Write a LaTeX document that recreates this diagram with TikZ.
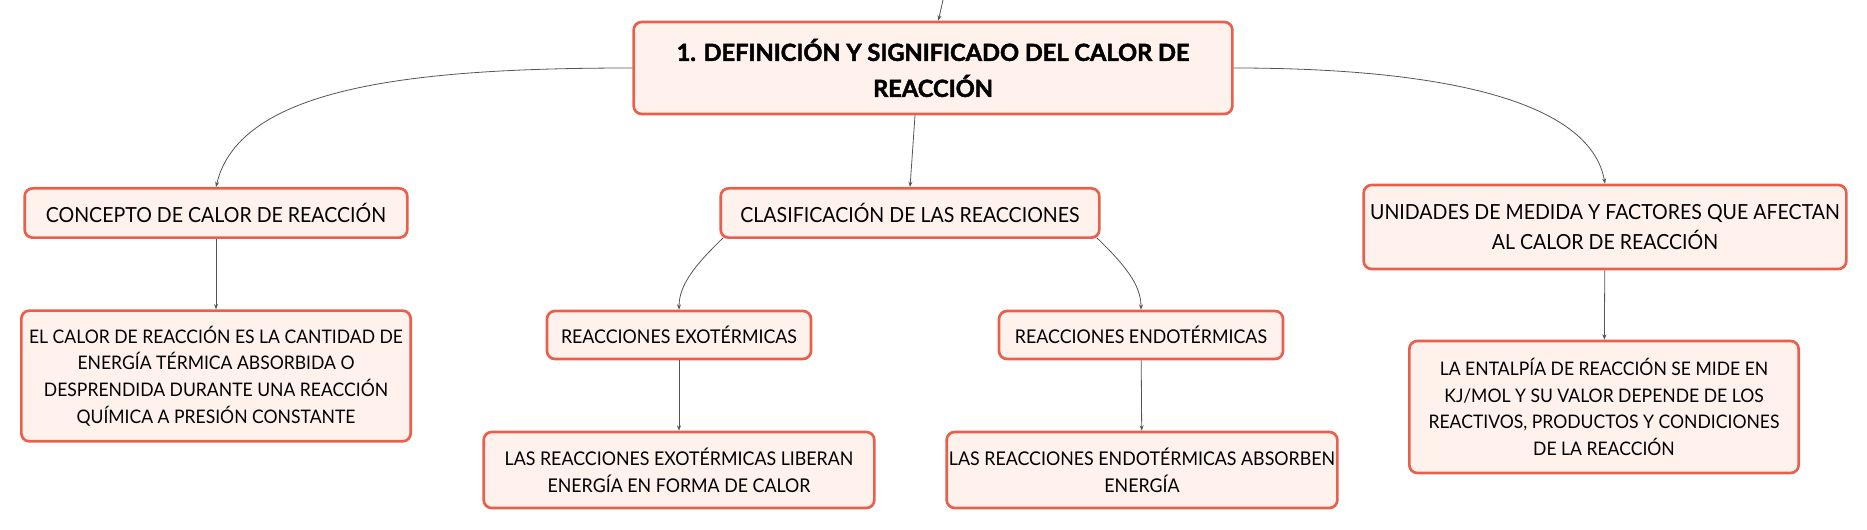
\documentclass[tikz,border=0pt]{standalone}
\usepackage{fontspec}
\setmainfont{Lato}[FakeStretch=0.94]
\newfontfamily\heavyfont{Lato}[BoldFeatures={FakeBold=2}]
\usetikzlibrary{arrows.meta}
\definecolor{boxline}{HTML}{E8604C}
\definecolor{boxfill}{HTML}{FFF2ED}
\definecolor{linkgray}{HTML}{555555}

\begin{document}
\begin{tikzpicture}[x=0.75pt, y=-0.75pt,
    box/.style={draw=boxline, line width=2pt, fill=boxfill, rounded corners=6pt, align=center, inner sep=0pt},
    link/.style={draw=linkgray, line width=0.6pt, -{Stealth[length=4pt,width=3pt]}},
    rootfont/.style={font=\heavyfont\fontsize{17.7}{27}\selectfont\bfseries},
    headfont/.style={font=\fontsize{15.6}{22.5}\selectfont},
    leaffont/.style={font=\fontsize{14}{20}\selectfont},
    midfont/.style={font=\fontsize{14.2}{20}\selectfont}]
    \useasboundingbox (0,0) rectangle (1867,530);

    % Central topic
    \coordinate (up) at (943,0);
    \node[box, rootfont, minimum width=449pt, minimum height=69pt] (root) at (933,68)
        {1. DEFINICIÓN Y SIGNIFICADO DEL CALOR DE\\REACCIÓN};
    \draw[link] (up) -- ([xshift=4pt]root.north);

    % Concepto
    \node[box, headfont, minimum width=287pt, minimum height=37pt] (concepto) at (216,213)
        {CONCEPTO DE CALOR DE REACCIÓN};
    \node[box, leaffont, minimum width=292pt, minimum height=98pt] (calor) at (216,376)
        {EL CALOR DE REACCIÓN ES LA CANTIDAD DE\\ENERGÍA TÉRMICA ABSORBIDA O\\DESPRENDIDA DURANTE UNA REACCIÓN\\QUÍMICA A PRESIÓN CONSTANTE};

    % Clasificacion
    \node[box, headfont, minimum width=284pt, minimum height=37pt] (clasif) at (910,213)
        {CLASIFICACIÓN DE LAS REACCIONES};
    \node[box, midfont, minimum width=198pt, minimum height=36pt] (exo) at (679,335)
        {REACCIONES EXOTÉRMICAS};
    \node[box, midfont, minimum width=213pt, minimum height=36pt] (endo) at (1141,335)
        {REACCIONES ENDOTÉRMICAS};
    \node[box, midfont, minimum width=293pt, minimum height=57pt] (exotxt) at (679,470)
        {LAS REACCIONES EXOTÉRMICAS LIBERAN\\ENERGÍA EN FORMA DE CALOR};
    \node[box, midfont, minimum width=293pt, minimum height=57pt] (endotxt) at (1142,470)
        {LAS REACCIONES ENDOTÉRMICAS ABSORBEN\\ENERGÍA};

    % Unidades
    \node[box, headfont, minimum width=362pt, minimum height=63pt] (unidades) at (1605,227)
        {UNIDADES DE MEDIDA Y FACTORES QUE AFECTAN\\AL CALOR DE REACCIÓN};
    \node[box, leaffont, minimum width=292pt, minimum height=99pt] (entalpia) at (1604,407)
        {LA ENTALPÍA DE REACCIÓN SE MIDE EN\\KJ/MOL Y SU VALOR DEPENDE DE LOS\\REACTIVOS, PRODUCTOS Y CONDICIONES\\DE LA REACCIÓN};

    % Links
    \draw[link] (root.west) .. controls (420,68) and (240,85) .. (concepto.north);
    \draw[link] (root.east) .. controls (1440,68) and (1590,100) .. (unidades.north);
    \draw[link] ([xshift=-13.5pt]root.south) .. controls (913,150) .. (clasif.north);
    \draw[link] ([xshift=3pt,yshift=1pt]clasif.south west) .. controls (695,265) and (679,285) .. (exo.north);
    \draw[link] ([xshift=-3pt,yshift=1pt]clasif.south east) .. controls (1125,265) and (1141,285) .. (endo.north);
    \draw[link] (concepto) -- (calor);
    \draw[link] (exo) -- (exotxt);
    \draw[link] (endo) -- (endotxt);
    \draw[link] (unidades) -- (entalpia);

\end{tikzpicture}
\end{document}
